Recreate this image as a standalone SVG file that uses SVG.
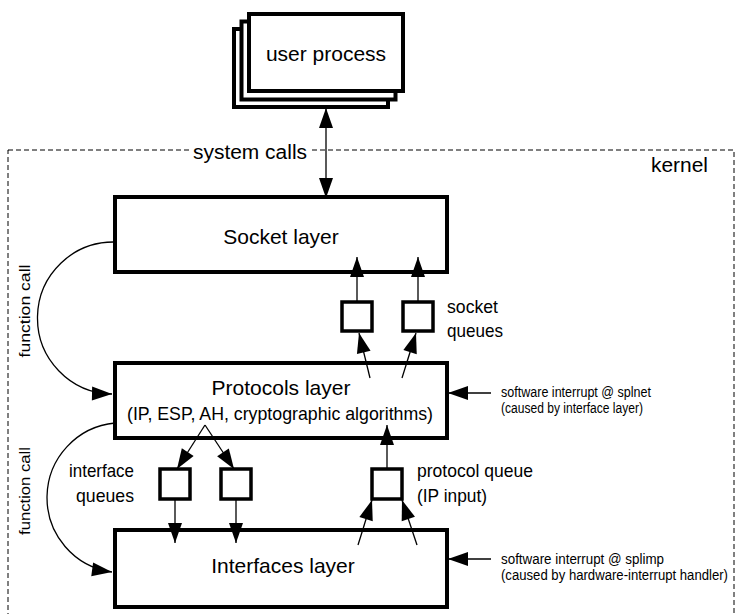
<svg xmlns="http://www.w3.org/2000/svg" width="736" height="614" viewBox="0 0 736 614">
  <defs>
    <style>
      text { font-family: "Liberation Sans", Arial, Helvetica, sans-serif; fill: #000; }
      .box { fill: #fff; stroke: #000; stroke-width: 4; }
      .q { fill: #fff; stroke: #000; stroke-width: 3.5; }
      .ln { fill: none; stroke: #000; stroke-width: 1.3; }
      .arr { marker-end: url(#ah); }
      .big { font-size: 21px; text-anchor: middle; }
      .lbl { font-size: 19px; }
      .note { font-size: 14px; }
      .kernel { fill: none; stroke: #000; stroke-width: 1; stroke-dasharray: 5 3; }
    </style>
    <marker id="ah" markerUnits="userSpaceOnUse" viewBox="-21 -8 22 16" markerWidth="22" markerHeight="16" refX="0" refY="0" orient="auto-start-reverse">
      <path d="M0,0 L-20,-7 L-20,7 Z" fill="#000"/>
    </marker>
  </defs>

  <!-- kernel boundary -->
  <g id="kernel">
    <rect class="kernel" x="8" y="150" width="726" height="480"/>
    <rect x="190" y="140" width="120" height="20" fill="#fff"/>
    <text x="250" y="159" font-size="20" text-anchor="middle" textLength="114" lengthAdjust="spacingAndGlyphs">system calls</text>
    <text x="651" y="172" font-size="20" textLength="57" lengthAdjust="spacingAndGlyphs">kernel</text>
  </g>

  <!-- stacked user processes -->
  <g id="user-process">
    <rect class="box" x="234" y="29" width="154" height="78"/>
    <rect class="box" x="241.5" y="21.5" width="154" height="78"/>
    <rect class="box" x="249" y="14" width="154" height="77"/>
    <text class="big" x="326" y="61">user process</text>
  </g>

  <g id="socket-layer">
    <rect class="box" x="115" y="197" width="332" height="75"/>
    <text class="big" x="281" y="244">Socket layer</text>
  </g>

  <g id="protocols-layer">
    <rect class="box" x="115" y="363" width="332" height="75"/>
    <text class="big" x="281" y="395">Protocols layer</text>
    <text x="280" y="420" font-size="19" text-anchor="middle" textLength="306" lengthAdjust="spacingAndGlyphs">(IP, ESP, AH, cryptographic algorithms)</text>
  </g>

  <g id="interfaces-layer">
    <rect class="box" x="115" y="530" width="332" height="77"/>
    <text class="big" x="283" y="573">Interfaces layer</text>
  </g>

  <g id="socket-queues">
    <rect class="q" x="342" y="302" width="30" height="29"/>
    <rect class="q" x="403" y="302" width="30" height="29"/>
    <text class="lbl" x="447" y="313" textLength="51" lengthAdjust="spacingAndGlyphs">socket</text>
    <text class="lbl" x="447" y="337" textLength="56" lengthAdjust="spacingAndGlyphs">queues</text>
  </g>

  <g id="interface-queues">
    <rect class="q" x="160" y="469" width="30" height="30"/>
    <rect class="q" x="221" y="469" width="30" height="30"/>
    <text class="lbl" x="134" y="477" text-anchor="end" textLength="65" lengthAdjust="spacingAndGlyphs">interface</text>
    <text class="lbl" x="134" y="502" text-anchor="end" textLength="58" lengthAdjust="spacingAndGlyphs">queues</text>
  </g>

  <g id="protocol-queue">
    <rect class="q" x="372" y="469" width="30" height="30"/>
    <text class="lbl" x="417" y="477" textLength="116" lengthAdjust="spacingAndGlyphs">protocol queue</text>
    <text class="lbl" x="417" y="502" textLength="70" lengthAdjust="spacingAndGlyphs">(IP input)</text>
  </g>

  <g id="interrupt-notes">
    <text class="note" x="501" y="397" textLength="150" lengthAdjust="spacingAndGlyphs">software interrupt @ splnet</text>
    <text class="note" x="501" y="413" textLength="142" lengthAdjust="spacingAndGlyphs">(caused by interface layer)</text>
    <text class="note" x="501" y="564" textLength="163" lengthAdjust="spacingAndGlyphs">software interrupt @ splimp</text>
    <text class="note" x="501" y="580" textLength="227" lengthAdjust="spacingAndGlyphs">(caused by hardware-interrupt handler)</text>
  </g>

  <g id="function-call-labels">
    <text x="0" y="0" font-size="15" text-anchor="middle" textLength="93" lengthAdjust="spacingAndGlyphs" transform="translate(30,311) rotate(-90)">function call</text>
    <text x="0" y="0" font-size="15" text-anchor="middle" textLength="88" lengthAdjust="spacingAndGlyphs" transform="translate(30,491) rotate(-90)">function call</text>
  </g>

  <!-- connectors -->
  <g id="connectors">
    <!-- system calls: user process <-> socket layer -->
    <line class="ln" x1="326" y1="108" x2="326" y2="198" marker-start="url(#ah)" marker-end="url(#ah)"/>
    <!-- socket queues up into socket layer -->
    <line class="ln arr" x1="357" y1="302" x2="357" y2="257"/>
    <line class="ln arr" x1="418" y1="302" x2="418" y2="257"/>
    <!-- protocols layer into socket queues -->
    <line class="ln arr" x1="370" y1="378" x2="359" y2="333"/>
    <line class="ln arr" x1="402" y1="378" x2="416" y2="333"/>
    <!-- protocols layer into interface queues -->
    <line class="ln arr" x1="205" y1="425" x2="177" y2="469"/>
    <line class="ln arr" x1="205" y1="425" x2="234" y2="469"/>
    <!-- interface queues down into interfaces layer -->
    <line class="ln arr" x1="175" y1="499" x2="175" y2="543"/>
    <line class="ln arr" x1="236" y1="499" x2="236" y2="543"/>
    <!-- protocol queue up into protocols layer -->
    <line class="ln arr" x1="387" y1="469" x2="387" y2="425"/>
    <!-- interfaces layer into protocol queue -->
    <line class="ln arr" x1="358" y1="545" x2="372" y2="500"/>
    <line class="ln arr" x1="417" y1="545" x2="402" y2="500"/>
    <!-- software interrupts -->
    <line class="ln arr" x1="491" y1="393" x2="448" y2="393"/>
    <line class="ln arr" x1="491" y1="559" x2="448" y2="559"/>
    <!-- function calls -->
    <path class="ln arr" d="M115,242 A76,76 0 0 0 112,394"/>
    <path class="ln arr" d="M115,423 A75,75 0 0 0 112,572"/>
  </g>
</svg>
